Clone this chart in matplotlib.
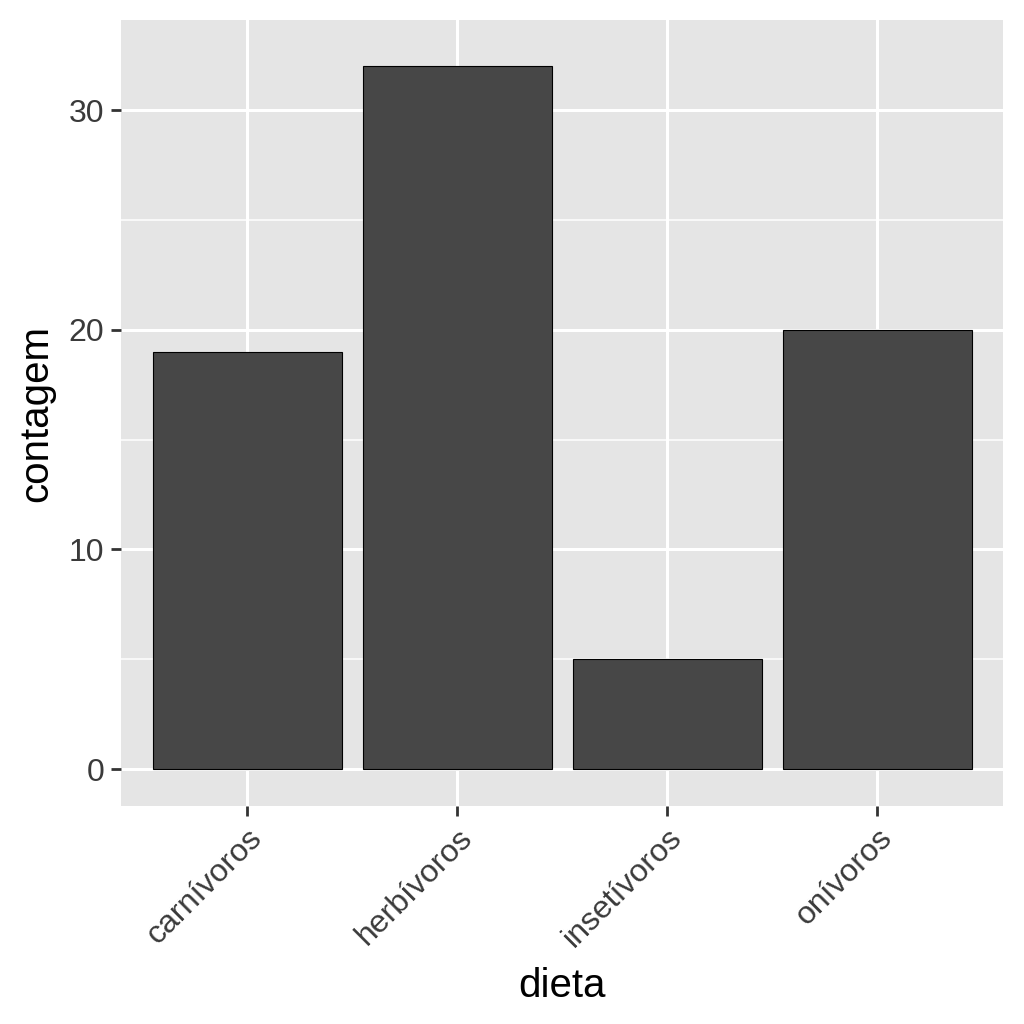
import matplotlib
matplotlib.use("Agg")
import matplotlib.pyplot as plt

# contagem por dieta
dietas = ["carnívoros", "herbívoros", "insetívoros", "onívoros"]
contagens = [19, 32, 5, 20]

plt.rcParams['font.family'] = ['Liberation Sans', 'DejaVu Sans']

fig = plt.figure(figsize=(10.24, 10.24), dpi=100)
ax = fig.add_axes([121/1024, (1024-806)/1024, (1003-121)/1024, (806-20)/1024])
ax.set_facecolor('#e5e5e5')

x = list(range(len(dietas)))
ax.bar(x, contagens, width=0.9, color='#474747', edgecolor='black', linewidth=0.8, zorder=3)

ax.set_xlim(-0.6, len(dietas) - 0.4)
ax.set_ylim(-1.68, 34.1)
ax.set_yticks([0, 10, 20, 30])
ax.set_yticks([5, 15, 25], minor=True)
ax.set_xticks(x)
ax.set_xticklabels(dietas, rotation=45, ha='right', rotation_mode='anchor')

ax.grid(True, which='major', color='white', linewidth=2.2, zorder=0)
ax.grid(True, which='minor', axis='y', color='white', linewidth=1.1, zorder=0)
ax.set_axisbelow(True)
for s in ax.spines.values():
    s.set_visible(False)

ax.tick_params(axis='both', which='major', length=7, width=2, color='#333333',
               labelsize=23, labelcolor='#3a3a3a', pad=5)
ax.tick_params(axis='y', which='minor', length=0)

ax.set_xlabel('dieta', fontsize=29, labelpad=10)
ax.set_ylabel('contagem', fontsize=29, labelpad=10)

fig.savefig('out.png', dpi=100, facecolor='white')
